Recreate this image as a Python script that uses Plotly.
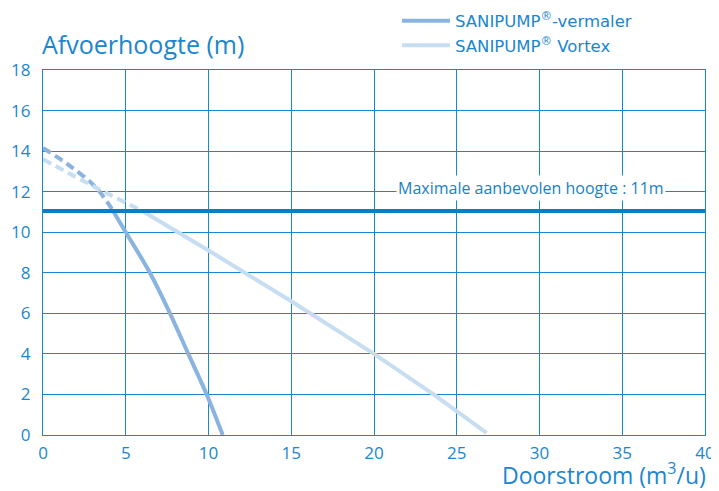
import plotly.graph_objects as go

# Data
verm_dash_x = [0, 1.5, 3.2, 4.2]
verm_dash_y = [14.15, 13.35, 12.2, 11.1]
verm_x = [4.2, 5.0, 6.46, 7.67, 8.78, 9.89, 10.86]
verm_y = [11.1, 10.0, 8.0, 6.0, 4.0, 2.0, 0.0]

vort_dash_x = [0, 3.2, 6.0]
vort_dash_y = [13.6, 12.2, 11.05]
vort_x = [6.0, 10.0, 15.0, 20.0, 23.6, 26.8]
vort_y = [11.05, 9.1, 6.6, 4.0, 2.0, 0.1]

max_height = 11.05
x_ticks = [0, 5, 10, 15, 20, 25, 30, 35, 40]
y_ticks = [0, 2, 4, 6, 8, 10, 12, 14, 16, 18]

BLUE = "#1a86cf"
C_VERM = "#8ab4e0"
C_VORT = "#c7ddf1"
FONT = "Open Sans"

fig = go.Figure()
fig.add_trace(go.Scatter(x=verm_dash_x, y=verm_dash_y, mode="lines",
                         line=dict(color=C_VERM, width=4, dash="9px,5px", shape="spline"), showlegend=False))
fig.add_trace(go.Scatter(x=vort_dash_x, y=vort_dash_y, mode="lines",
                         line=dict(color=C_VORT, width=4, dash="9px,5px", shape="spline"), showlegend=False))
fig.add_trace(go.Scatter(x=verm_x, y=verm_y, mode="lines", name="SANIPUMP<sup>®</sup>-vermaler",
                         line=dict(color=C_VERM, width=4, shape="spline", smoothing=1.0)))
fig.add_trace(go.Scatter(x=vort_x, y=vort_y, mode="lines", name="SANIPUMP<sup>®</sup> Vortex",
                         line=dict(color=C_VORT, width=4)))
fig.add_trace(go.Scatter(x=[0, 40], y=[max_height, max_height], mode="lines",
                         line=dict(color="#0a7dc8", width=4), showlegend=False))

fig.add_annotation(x=29.5, y=12.2, text="Maximale aanbevolen hoogte : 11m", showarrow=False,
                   font=dict(family=FONT, size=16, color="#1a7fc4"), bgcolor="white")
fig.add_annotation(xref="paper", yref="paper", x=-0.004, y=1.02, xanchor="left", yanchor="bottom",
                   text="Afvoerhoogte (m)", showarrow=False,
                   font=dict(family=FONT, size=25, color=BLUE))
fig.add_annotation(xref="paper", yref="paper", x=1.005, y=-0.108, xanchor="right", yanchor="middle",
                   text="Doorstroom (m<sup>3</sup>/u)", showarrow=False,
                   font=dict(family=FONT, size=23, color=BLUE))

axis_common = dict(showgrid=True, gridcolor=BLUE, gridwidth=1.3, showline=True, linecolor=BLUE,
                   linewidth=1.3, mirror=True, zeroline=False, ticks="", automargin=False,
                   tickfont=dict(family=FONT, size=17, color=BLUE))
fig.update_xaxes(range=[0, 40], tickvals=x_ticks, ticklabelstandoff=2, **axis_common)
fig.update_yaxes(range=[0, 18], tickvals=y_ticks, ticklabelstandoff=8, **axis_common)

# page body adds an 8px margin, so the figure is sized/offset to compensate
fig.update_layout(
    width=711, height=483,
    margin=dict(l=35, r=14, t=62, b=56, autoexpand=False),
    plot_bgcolor="white", paper_bgcolor="white",
    font=dict(family=FONT, color=BLUE),
    legend=dict(x=0.5347, y=1.182, xanchor="left", yanchor="top", bgcolor="rgba(0,0,0,0)",
                font=dict(family="DejaVu Sans", size=16.5, color=BLUE), tracegroupgap=0, itemwidth=48),
    showlegend=True,
)

fig.write_html("out.html")
